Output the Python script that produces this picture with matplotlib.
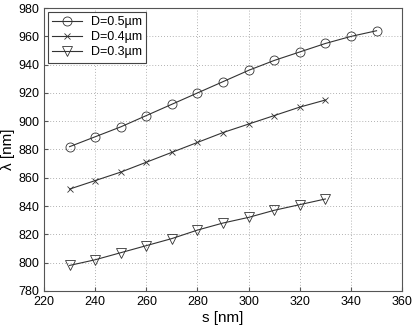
import numpy as np
import matplotlib.pyplot as plt

plt.rcParams['font.family'] = ['Liberation Sans', 'DejaVu Sans']

s_05 = [230, 240, 250, 260, 270, 280, 290, 300, 310, 320, 330, 340, 350]
lam_05 = [882, 889, 896, 904, 912, 920, 928, 936, 943, 949, 955, 960, 964]
s_04 = [230, 240, 250, 260, 270, 280, 290, 300, 310, 320, 330]
lam_04 = [852, 858, 864, 871, 878, 885, 892, 898, 904, 910, 915]
s_03 = [230, 240, 250, 260, 270, 280, 290, 300, 310, 320, 330]
lam_03 = [798, 802, 807, 812, 817, 823, 828, 832, 837, 841, 845]

fig = plt.figure(figsize=(4.15, 3.25), dpi=100)
ax = fig.add_axes([0.106, 0.105, 0.863, 0.87])

style = dict(color='#333333', linewidth=0.8, markerfacecolor='none',
             markeredgecolor='#333333', markeredgewidth=0.6)
ax.plot(s_05, lam_05, marker='o', markersize=6.5, label='D=0.5\u00b5m', **style)
ax.plot(s_04, lam_04, marker='x', markersize=4.5, label='D=0.4\u00b5m', **style)
ax.plot(s_03, lam_03, marker='v', markersize=7, label='D=0.3\u00b5m', **style)

ax.set_xlim(220, 360)
ax.set_ylim(780, 980)
ax.set_xticks(np.arange(220, 361, 20))
ax.set_yticks(np.arange(780, 981, 20))
ax.grid(True, linestyle=(0, (1, 2.5)), color='#999999', linewidth=0.6)
ax.tick_params(labelsize=9, direction='in', length=3, color='#555555')
for sp in ax.spines.values():
    sp.set_color('#555555')
ax.set_xlabel('s [nm]', fontsize=11, labelpad=2)
ax.set_ylabel('\u03bb [nm]', fontsize=11, labelpad=2)

leg = ax.legend(loc='upper left', fontsize=9, fancybox=False, framealpha=1,
                edgecolor='#444444', borderaxespad=0.3, handlelength=2.4,
                labelspacing=0.25, borderpad=0.35, handletextpad=0.7)
leg.get_frame().set_linewidth(0.8)

fig.savefig('out.png', dpi=100)
